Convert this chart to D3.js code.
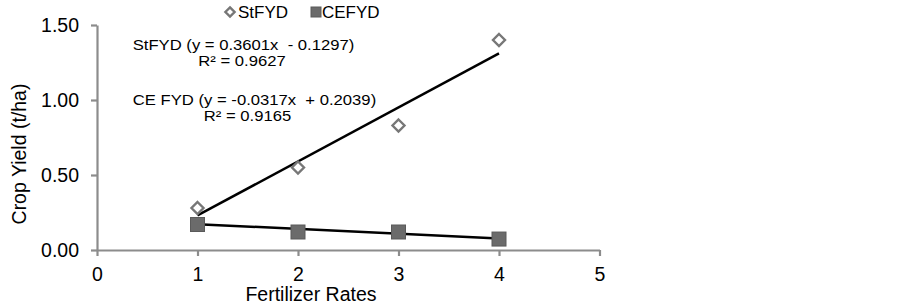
<!DOCTYPE html>
<html><head><meta charset="utf-8">
<script src="https://cdn.jsdelivr.net/npm/d3@7"></script>
<style>body{margin:0;background:#fff}svg{display:block;font-family:"Liberation Sans",Arial,sans-serif}</style>
</head><body><svg id="c" width="902" height="306"></svg>
<script>
const rates = [1, 2, 3, 4];
const stFYD = [0.28, 0.55, 0.83, 1.40];
const ceFYD = [0.17, 0.12, 0.12, 0.073];
const stFit = {slope: 0.3601, intercept: -0.1297};
const ceFit = {slope: -0.0317, intercept: 0.2039};
const xTicks = [0, 1, 2, 3, 4, 5];
const yTicks = [0, 0.5, 1.0, 1.5];
const seriesNames = ["StFYD", "CEFYD"];
const eqLabels = [["StFYD (y = 0.3601x  - 0.1297)", "R² = 0.9627"], ["CE FYD (y = -0.0317x  + 0.2039)", "R² = 0.9165"]];

const svg = d3.select("#c");
const x = d3.scaleLinear().domain([0, 5]).range([97, 599.5]);
const y = d3.scaleLinear().domain([0, 1.5]).range([250, 25]);
const axisCol = "#8c8c8c";
const FONT = '"Liberation Sans",Arial,sans-serif';

const gx = svg.append("g").attr("transform", "translate(0,250)")
  .call(d3.axisBottom(x).tickValues(xTicks).tickSize(6).tickSizeOuter(0).tickPadding(11).tickFormat(d3.format("d")));
const gy = svg.append("g").attr("transform", "translate(97,0)")
  .call(d3.axisLeft(y).tickValues(yTicks).tickSize(6).tickSizeOuter(0).tickPadding(12).tickFormat(d3.format(".2f")));
[gx, gy].forEach(g => {
  g.select(".domain").attr("stroke", axisCol).attr("stroke-width", 2.2);
  g.selectAll(".tick line").attr("stroke", axisCol).attr("stroke-width", 2.2);
  g.selectAll("text").attr("fill", "#000").style("font-size", "19.5px").style("font-family", FONT);
});

svg.append("text").attr("x", 311).attr("y", 301).attr("text-anchor", "middle")
  .style("font-size", "19.5px").text("Fertilizer Rates");
svg.append("text").attr("transform", "translate(26,154) rotate(-90)").attr("text-anchor", "middle")
  .style("font-size", "19.5px").text("Crop Yield (t/ha)");

// trend lines
[stFit, ceFit].forEach(f => {
  const xs = d3.extent(rates);
  svg.append("line")
    .attr("x1", x(xs[0])).attr("y1", y(f.slope * xs[0] + f.intercept))
    .attr("x2", x(xs[1])).attr("y2", y(f.slope * xs[1] + f.intercept))
    .attr("stroke", "#000").attr("stroke-width", 2.5);
});

function drawDiamond(g, cx, cy, s) {
  g.append("path").attr("d", `M${cx},${cy - s}L${cx + s},${cy}L${cx},${cy + s}L${cx - s},${cy}Z`)
    .attr("fill", "#fff").attr("stroke", "#777").attr("stroke-width", 2.4);
}
function drawSquare(g, cx, cy, s) {
  g.append("rect").attr("x", cx - s).attr("y", cy - s).attr("width", 2 * s).attr("height", 2 * s)
    .attr("fill", "#6b6b6b").attr("stroke", "#5a5a5a").attr("stroke-width", 1);
}
rates.forEach((r, i) => drawSquare(svg, x(r), y(ceFYD[i]), 7));
rates.forEach((r, i) => drawDiamond(svg, x(r), y(stFYD[i]), 6));

// legend
drawDiamond(svg, 230, 12, 4.6);
svg.append("text").attr("x", 238).attr("y", 18).style("font-size", "17px").text(seriesNames[0]);
drawSquare(svg, 316, 12, 5);
svg.append("text").attr("x", 322).attr("y", 18).style("font-size", "17px").text(seriesNames[1]);

// equations
const sx = 1.19;
const eqPos = [[[243.5, 50], [242, 66]], [[254.5, 104.5], [247.5, 120.5]]];
eqLabels.forEach((lab, i) => {
  lab.forEach((s, j) => {
    const [cj, bj] = eqPos[i][j];
    svg.append("text")
      .attr("transform", `translate(${cj},${bj}) scale(${sx},1)`)
      .attr("text-anchor", "middle").style("font-size", "14px")
      .style("white-space", "pre").attr("xml:space", "preserve").text(s);
  });
});
</script></body></html>
